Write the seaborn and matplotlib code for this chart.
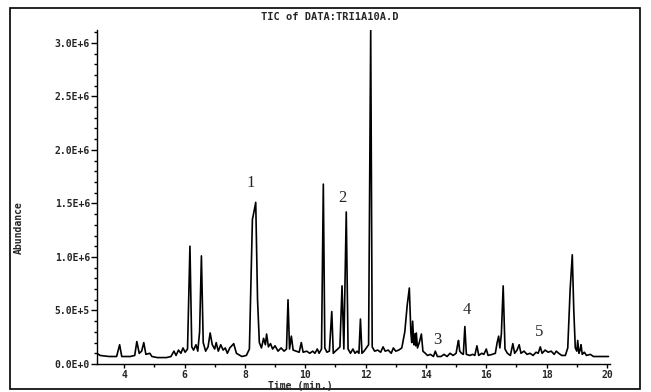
import matplotlib
matplotlib.use("Agg")
import matplotlib.pyplot as plt
import seaborn as sns
import pandas as pd
from matplotlib.patches import Rectangle
from matplotlib.ticker import MultipleLocator

# Retention time (min) and abundance (x1E6) vertices
times = [3.10, 3.20, 3.50, 3.75, 3.85, 3.92, 4.20, 4.35, 4.42, 4.50, 4.58, 4.65, 4.72, 4.85, 4.92,
         5.10, 5.40, 5.55, 5.65, 5.72, 5.80, 5.88, 5.95, 6.02, 6.10, 6.18, 6.24, 6.30, 6.38, 6.44,
         6.50, 6.56, 6.62, 6.70, 6.78, 6.85, 6.92, 7.00, 7.05, 7.12, 7.20, 7.28, 7.35, 7.42, 7.50,
         7.63, 7.72, 7.90, 8.05, 8.15, 8.25, 8.30, 8.36, 8.42, 8.48, 8.55, 8.62, 8.68, 8.72, 8.78,
         8.85, 8.92, 9.00, 9.10, 9.20, 9.30, 9.38, 9.43, 9.48, 9.54, 9.60, 9.70, 9.80, 9.87, 9.93,
         10.05, 10.15, 10.25, 10.32, 10.40, 10.46, 10.54, 10.60, 10.65, 10.72, 10.80, 10.88, 10.93,
         11.00, 11.08, 11.15, 11.22, 11.28, 11.36, 11.42, 11.50, 11.58, 11.65, 11.72, 11.78, 11.83,
         11.88, 11.95, 12.05, 12.10, 12.17, 12.22, 12.30, 12.40, 12.50, 12.58, 12.65, 12.75, 12.85,
         12.92, 13.00, 13.10, 13.20, 13.30, 13.38, 13.45, 13.50, 13.53, 13.56, 13.60, 13.63, 13.66,
         13.68, 13.72, 13.78, 13.85, 13.90, 13.98, 14.05, 14.15, 14.25, 14.31, 14.38, 14.50, 14.60,
         14.70, 14.80, 14.90, 15.00, 15.05, 15.08, 15.12, 15.18, 15.24, 15.29, 15.34, 15.45, 15.55,
         15.62, 15.69, 15.75, 15.85, 15.92, 16.00, 16.06, 16.20, 16.30, 16.36, 16.41, 16.45, 16.50,
         16.56, 16.62, 16.70, 16.80, 16.88, 16.94, 17.02, 17.09, 17.15, 17.25, 17.35, 17.45, 17.55,
         17.65, 17.72, 17.79, 17.85, 17.95, 18.05, 18.15, 18.25, 18.32, 18.40, 18.50, 18.62, 18.70,
         18.78, 18.85, 18.90, 18.95, 19.00, 19.03, 19.07, 19.11, 19.14, 19.18, 19.25, 19.32, 19.45,
         19.55, 19.70, 19.85, 20.05]
abund_e6 = [0.10, 0.08, 0.07, 0.07, 0.18, 0.07, 0.07, 0.08, 0.21, 0.10, 0.12, 0.20, 0.09, 0.10, 0.07,
            0.06, 0.06, 0.07, 0.12, 0.08, 0.13, 0.10, 0.15, 0.11, 0.14, 1.10, 0.16, 0.13, 0.18, 0.12,
            0.30, 1.01, 0.20, 0.12, 0.16, 0.29, 0.18, 0.14, 0.20, 0.12, 0.18, 0.13, 0.15, 0.10, 0.15,
            0.19, 0.10, 0.07, 0.08, 0.14, 1.35, 1.42, 1.51, 0.60, 0.20, 0.15, 0.24, 0.18, 0.28, 0.16,
            0.19, 0.14, 0.17, 0.12, 0.15, 0.12, 0.14, 0.60, 0.14, 0.26, 0.13, 0.12, 0.11, 0.20, 0.11,
            0.12, 0.10, 0.12, 0.10, 0.14, 0.10, 0.14, 1.68, 0.15, 0.11, 0.12, 0.49, 0.10,
            0.12, 0.14, 0.16, 0.73, 0.14, 1.42, 0.14, 0.10, 0.14, 0.10, 0.12, 0.10, 0.42,
            0.10, 0.12, 0.16, 0.18, 3.12, 0.16, 0.12, 0.13, 0.11, 0.16, 0.12, 0.13, 0.10,
            0.15, 0.12, 0.13, 0.15, 0.30, 0.55, 0.71, 0.30, 0.20, 0.40, 0.18, 0.28, 0.17,
            0.29, 0.15, 0.20, 0.28, 0.12, 0.10, 0.08, 0.09, 0.07, 0.12, 0.07, 0.07, 0.09,
            0.07, 0.10, 0.08, 0.10, 0.18, 0.22, 0.12, 0.10, 0.09, 0.35, 0.09, 0.08, 0.09,
            0.08, 0.17, 0.08, 0.10, 0.09, 0.14, 0.08, 0.09, 0.10, 0.20, 0.26, 0.15, 0.28,
            0.73, 0.14, 0.10, 0.08, 0.19, 0.10, 0.13, 0.18, 0.10, 0.12, 0.09, 0.10, 0.08,
            0.11, 0.10, 0.16, 0.10, 0.13, 0.11, 0.12, 0.09, 0.12, 0.10, 0.08, 0.08, 0.15,
            0.70, 1.02, 0.50, 0.15, 0.12, 0.22, 0.10, 0.13, 0.18, 0.09, 0.11, 0.08, 0.09,
            0.07, 0.07, 0.07, 0.07]

peak_labels = ["1", "2", "3", "4", "5"]
peak_label_t = [8.20, 11.24, 14.38, 15.37, 17.75]
peak_label_a = [1.69e6, 1.55e6, 0.22e6, 0.50e6, 0.30e6]

x_ticks = [4, 6, 8, 10, 12, 14, 16, 18, 20]
y_ticks = [0, 5e5, 1e6, 1.5e6, 2e6, 2.5e6, 3e6]
y_ticklabels = ["0.0E+0", "5.0E+5", "1.0E+6", "1.5E+6", "2.0E+6", "2.5E+6", "3.0E+6"]

title = "TIC of DATA:TRI1A10A.D"

df = pd.DataFrame({"Time": times, "Abundance": [v * 1e6 for v in abund_e6]})

sns.set_style("ticks")
plt.rcParams["font.family"] = ["DejaVu Sans Mono", "DejaVu Sans"]

fig = plt.figure(figsize=(6.51, 3.92), dpi=100)
ax = fig.add_axes([97 / 651, 1 - 364 / 392, (610 - 97) / 651, (364 - 30) / 392])

sns.lineplot(data=df, x="Time", y="Abundance", ax=ax, color="black", linewidth=1.2,
             sort=False, estimator=None)

ax.set_xlim(3.1, 20.1)
ax.set_ylim(0, 3.12e6)
ax.set_xticks(x_ticks)
ax.set_xticklabels([str(t) for t in x_ticks], fontsize=7, fontweight="bold")
ax.xaxis.set_minor_locator(MultipleLocator(1))
ax.set_yticks(y_ticks)
ax.set_yticklabels(y_ticklabels, fontsize=7, fontweight="bold")
ax.yaxis.set_minor_locator(MultipleLocator(1e5))
ax.tick_params(axis="y", which="major", length=4, width=1, color="black", pad=1)
ax.tick_params(axis="y", which="minor", length=2, width=1, color="black")
ax.tick_params(axis="x", which="major", length=3, width=1, color="black", pad=1)
ax.tick_params(axis="x", which="minor", length=2, width=1, color="black")

for s in ["top", "right"]:
    ax.spines[s].set_visible(False)
for s in ["left", "bottom"]:
    ax.spines[s].set_color("black")
    ax.spines[s].set_linewidth(1.0)

ax.set_xlabel("")
ax.set_ylabel("")
fig.text(300 / 651, 1 - 385.5 / 392, "Time (min.)", ha="center", va="center",
         fontsize=7, fontweight="bold")
fig.text(19 / 651, 1 - 228 / 392, "Abundance", ha="center", va="center",
         rotation=90, fontsize=7, fontweight="bold")
fig.text(330 / 651, 1 - 17 / 392, title, ha="center", va="center",
         fontsize=7.5, fontweight="bold")

for lab, t, a in zip(peak_labels, peak_label_t, peak_label_a):
    ax.text(t, a, lab, ha="center", va="center", fontsize=12,
            family=["Liberation Serif", "DejaVu Serif"])

fig.add_artist(Rectangle((10 / 651, 1 - 389 / 392), (640 - 10) / 651, (389 - 8) / 392,
                         transform=fig.transFigure, fill=False, edgecolor="black",
                         linewidth=1.2))

fig.savefig("out.png", dpi=100)
